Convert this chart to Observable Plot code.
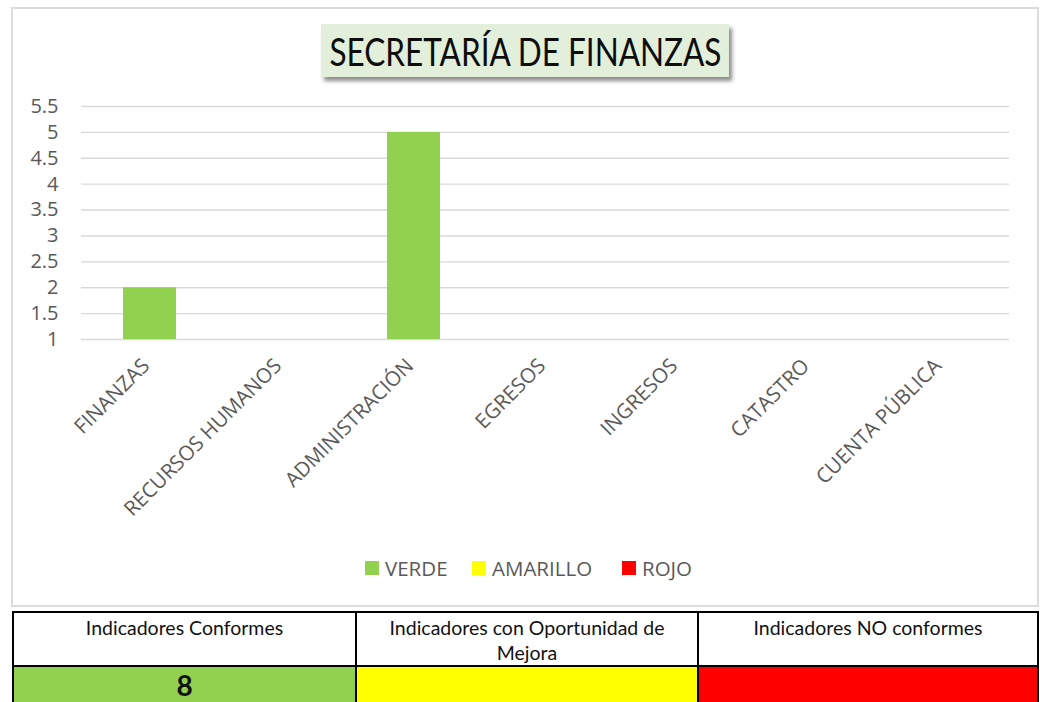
<!DOCTYPE html>
<html>
<head>
<meta charset="utf-8">
<script src="https://cdn.jsdelivr.net/npm/d3@7"></script>
<script src="https://cdn.jsdelivr.net/npm/@observablehq/plot@0.6"></script>
<style>
  html, body { margin: 0; padding: 0; background: #fff; }
  #page { position: relative; width: 1040px; height: 702px; overflow: hidden; background: #fff; }
  #frame { position: absolute; left: 11px; top: 7px; width: 1024px; height: 596px; border: 2px solid #dcdcdc; }
  #chart { position: absolute; left: 0; top: 0; }
  #title { position: absolute; left: 321px; top: 24px; width: 408px; height: 53px; background: #e2efda;
           box-shadow: 3px 4px 4px rgba(0,0,0,0.45); display: flex; align-items: center; justify-content: center; overflow: visible; }
  #title span { display: inline-block; font-family: Lato, sans-serif; font-size: 38px; color: #0d0d0d; white-space: nowrap; transform-origin: center center; line-height: 1; }
  .leg { position: absolute; top: 555px; height: 26px; display: flex; align-items: center; font-family: "Open Sans", sans-serif; font-size: 20.5px; color: #595959; white-space: nowrap; }
  .leg i { display: inline-block; width: 14px; height: 14px; margin-right: 6px; }
  #tbl { position: absolute; left: 12px; top: 611px; width: 1025px; border-collapse: collapse; table-layout: fixed; }
  #tbl td { border: 2px solid #000; text-align: center; font-family: Lato, sans-serif; color: #111; padding: 0; }
  #tbl tr.h td { height: 46px; box-sizing: border-box; vertical-align: top; font-size: 19.5px; line-height: 25px; padding: 2px 20px 0 20px; }
  #tbl tr.v td { height: 36px; vertical-align: middle; font-size: 28px; line-height: 36px; font-weight: bold; }
</style>
</head>
<body>
<div id="page">
  <div id="frame"></div>
  <div id="chart"></div>
  <div id="title"><span id="titleText"></span></div>
  <div id="legend"></div>
  <table id="tbl"><colgroup><col style="width:343px"><col style="width:342px"><col style="width:340px"></colgroup>
    <tr class="h"></tr><tr class="v"></tr></table>
</div>
<script>
// ---- data ----
const titleText = "SECRETARÍA DE FINANZAS";
const categories = ["FINANZAS", "RECURSOS HUMANOS", "ADMINISTRACIÓN", "EGRESOS", "INGRESOS", "CATASTRO", "CUENTA PÚBLICA"];
const verde    = [2, null, 5, null, null, null, null];
const amarillo = [null, null, null, null, null, null, null];
const rojo     = [null, null, null, null, null, null, null];
const seriesNames = ["VERDE", "AMARILLO", "ROJO"];
const seriesColors = ["#92d050", "#ffff00", "#ff0000"];
const yTicks = [1, 1.5, 2, 2.5, 3, 3.5, 4, 4.5, 5, 5.5];
const tableHeaders = ["Indicadores Conformes", "Indicadores con Oportunidad de Mejora", "Indicadores NO conformes"];
const tableValues = ["8", "", ""];

// ---- build table for Plot ----
const seriesValues = [verde, amarillo, rojo];
const rows = [];
seriesNames.forEach((s, si) => {
  categories.forEach((c, ci) => {
    const v = seriesValues[si][ci];
    if (v != null) rows.push({cat: c, series: s, value: v});
  });
});

const chart = Plot.plot({
  width: 1040,
  height: 600,
  marginLeft: 81,
  marginRight: 31,
  marginTop: 106,
  marginBottom: 261,
  style: {fontFamily: "'Open Sans', sans-serif", fontSize: "20px", color: "#595959", background: "transparent"},
  x: {domain: categories, paddingInner: 0.6, paddingOuter: 0.3, label: null},
  y: {domain: [1, 5.5], label: null},
  color: {domain: seriesNames, range: seriesColors},
  marks: [
    Plot.gridY(yTicks, {stroke: "#d9d9d9", strokeOpacity: 1, strokeWidth: 1.4}),
    Plot.barY(rows, {x: "cat", y1: 1, y2: "value", fill: "series"}),
    Plot.axisY({ticks: yTicks, tickSize: 0, tickPadding: 23, tickFormat: d => String(d), fontSize: 20}),
    Plot.axisX({tickSize: 0, tickRotate: -45, tickPadding: 23, dx: -4, fontSize: 20.5})
  ]
});
document.getElementById("chart").appendChild(chart);

// ---- title ----
const tt = document.getElementById("titleText");
tt.textContent = titleText;
const w = tt.getBoundingClientRect().width;
tt.style.transform = `scaleX(${392 / w})`;

// ---- legend ----
const legLefts = [365, 472, 622];
const legend = document.getElementById("legend");
seriesNames.forEach((s, i) => {
  const d = document.createElement("div");
  d.className = "leg";
  d.style.left = legLefts[i] + "px";
  d.innerHTML = `<i style="background:${seriesColors[i]}"></i><span>${s}</span>`;
  legend.appendChild(d);
});

// ---- table ----
const hRow = document.querySelector("#tbl tr.h");
const vRow = document.querySelector("#tbl tr.v");
tableHeaders.forEach((h, i) => {
  const td = document.createElement("td"); td.textContent = h; hRow.appendChild(td);
  const tv = document.createElement("td"); tv.textContent = tableValues[i];
  tv.style.background = seriesColors[i]; vRow.appendChild(tv);
});
</script>
</body>
</html>
